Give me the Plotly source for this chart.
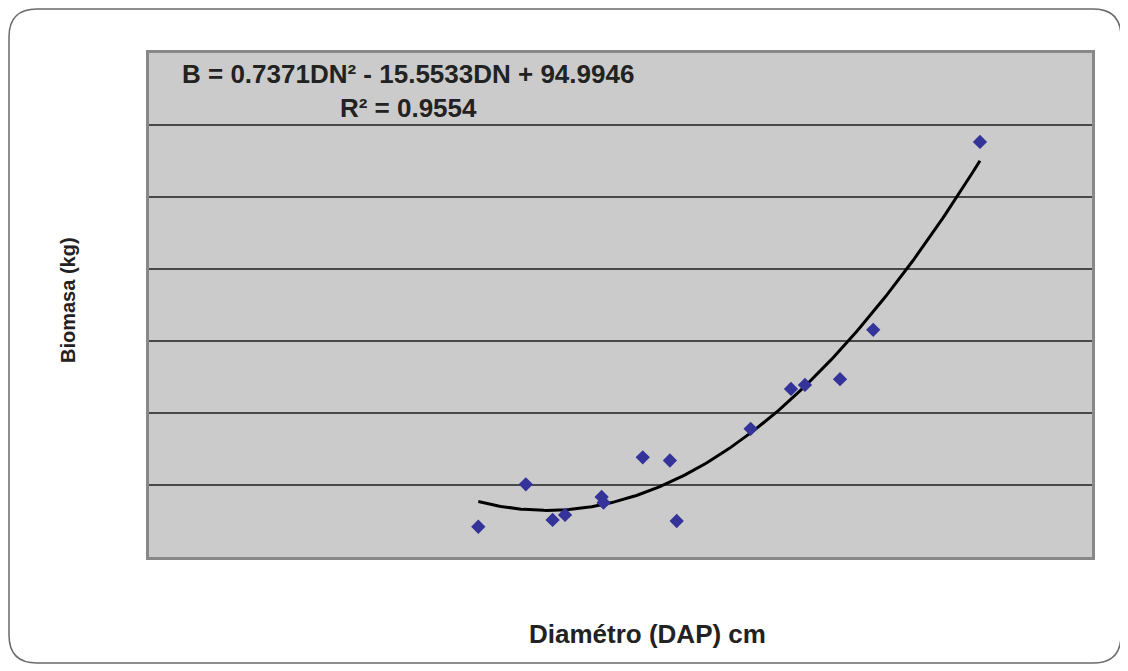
import plotly.graph_objects as go
import numpy as np

# Data
dap_cm = [8.73, 9.99, 10.70, 11.03, 12.00, 12.05, 13.09, 13.81, 13.99,
          15.95, 17.02, 17.39, 18.32, 19.20, 22.03]
biomasa_kg = [8.4, 20.2, 10.3, 11.7, 16.7, 15.1, 27.7, 26.8, 10.0,
              35.6, 46.7, 47.8, 49.4, 63.1, 115.3]

# Trendline coefficients printed on the chart
coef_a = 0.7371
coef_b = -15.5533
coef_c = 94.9946
r2 = 0.9554

x_range = [0, 25]
y_range = [0, 140]
y_grid = [20, 40, 60, 80, 100, 120]

fit_x = np.linspace(min(dap_cm), max(dap_cm), 200)
fit_y = coef_a * fit_x**2 + coef_b * fit_x + coef_c

# page body margin offset (8px) compensation
OFF = 8
W, H = 1128 - OFF, 671 - OFF
# plot area in screen pixels
SL, SR, ST, SB = 149, 1092, 53, 557
ML, MT = SL - OFF, ST - OFF
MR = W - (SR - OFF)
MB = H - (SB - OFF)
PW = SR - SL
PH = SB - ST

def px(xs):
    return (xs - SL) / PW

def py(ys):
    return (SB - ys) / PH

FONT = "Arial, Liberation Sans, sans-serif"

fig = go.Figure()
fig.add_trace(go.Scatter(
    x=fit_x, y=fit_y, mode="lines",
    line=dict(color="black", width=3),
    showlegend=False))
fig.add_trace(go.Scatter(
    x=dap_cm, y=biomasa_kg, mode="markers",
    marker=dict(symbol="diamond", size=11, color="#333399", line=dict(width=0)),
    showlegend=False, cliponaxis=False))

# rounded outer frame (screen pixel coords)
l, r, t, b, rad = 9, 1121, 9, 663, 28
def P(xv, yv):
    return f"{px(xv):.5f},{py(yv):.5f}"
path = (f"M {P(l + rad, t)} L {P(r - rad, t)} Q {P(r, t)} {P(r, t + rad)} "
        f"L {P(r, b - rad)} Q {P(r, b)} {P(r - rad, b)} "
        f"L {P(l + rad, b)} Q {P(l, b)} {P(l, b - rad)} "
        f"L {P(l, t + rad)} Q {P(l, t)} {P(l + rad, t)} Z")
fig.add_shape(type="path", path=path, xref="paper", yref="paper",
              line=dict(color="#6a6a6a", width=1.5), layer="below")

eq_line1 = f"B = {coef_a:.4f}DN² - {abs(coef_b):.4f}DN + {coef_c:.4f}"
eq_line2 = f"R² = {r2:.4f}"
fig.add_annotation(text=f"<b>{eq_line1}</b><br><b>{eq_line2}</b>",
                   xref="paper", yref="paper",
                   x=px(408), y=py(91), xanchor="center", yanchor="middle",
                   showarrow=False, align="center",
                   font=dict(family=FONT, size=26, color="#222222"))
fig.add_annotation(text="<b>Biomasa (kg)</b>", xref="paper", yref="paper",
                   x=px(68), y=py(300), textangle=-90,
                   xanchor="center", yanchor="middle", showarrow=False,
                   font=dict(family=FONT, size=20, color="#222222"))
fig.add_annotation(text="<b>Diamétro (DAP) cm</b>", xref="paper", yref="paper",
                   x=px(647), y=py(634), xanchor="center", yanchor="middle",
                   showarrow=False,
                   font=dict(family=FONT, size=26, color="#222222"))

fig.update_layout(
    width=W, height=H,
    margin=dict(l=ML, r=MR, t=MT, b=MB),
    paper_bgcolor="white", plot_bgcolor="#cbcbcb",
    font=dict(family=FONT, color="#222222"),
    xaxis=dict(range=x_range, showgrid=False, zeroline=False, showticklabels=False,
               ticks="", showline=True, linecolor="#888888", linewidth=3, mirror=True),
    yaxis=dict(range=y_range, tickvals=y_grid, showgrid=True, gridcolor="#484848",
               gridwidth=2, zeroline=False, showticklabels=False, ticks="",
               showline=True, linecolor="#888888", linewidth=3, mirror=True),
)

fig.write_html("out.html")
